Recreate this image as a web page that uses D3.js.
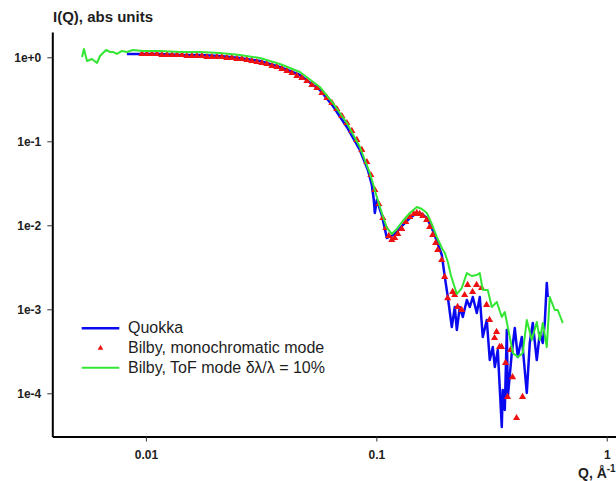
<!DOCTYPE html>
<html><head><meta charset="utf-8">
<script src="https://cdn.jsdelivr.net/npm/d3@7"></script>
<style>
body{margin:0;background:#fff}
svg{display:block}
text{font-family:"Liberation Sans",Arial,Helvetica,sans-serif}
</style>
</head><body>
<svg id="c" width="616" height="481"></svg>
<script>
// ---- data ----
const quokkaQ = [0.00827,0.00971,0.0115,0.01404,0.01715,0.02094,0.02557,0.03123,0.03814,0.04658,
  0.05686,0.06477,0.07447,0.0848,0.0919,0.0956,0.0975,0.0985,0.1005,0.1056,
  0.1111,0.1179,0.1227,0.1303,0.1398,0.1499,0.1576,0.1656,0.1741,0.1830,
  0.1924,0.1983,0.2043,0.2126,0.2191,0.2235,0.2303,0.2373,0.2470,0.2545,
  0.2622,0.2729,0.2812,0.2897,0.3016,0.3107,0.3202,0.3267,0.3366,0.3503,
  0.3538,0.3610,0.3684,0.3721,0.3872,0.3990,0.4111,0.4279,0.4498,0.4634,
  0.4775,0.4970,0.5121,0.5277,0.5383,0.5492,0.5546];
const quokkaI = [1.095,1.095,1.095,1.065,1.065,1.036,0.981,0.904,0.766,0.616,
  0.408,0.263,0.148,0.0788,0.0455,0.0302,0.0200,0.0140,0.0200,0.01326,
  0.00706,0.00766,0.00832,0.01008,0.01221,0.0140,0.01363,0.01221,0.00929,0.00650,
  0.00443,0.00242,0.00140,0.000616,0.001065,0.000567,0.001065,0.000810,0.00129,0.001065,
  0.00140,0.000904,0.00140,0.000468,0.000746,0.000249,0.000356,0.000206,0.000328,0.0000397,
  0.0001095,0.0000633,0.000567,0.0000904,0.000302,0.000599,0.000270,0.000468,0.0001008,0.000397,
  0.000687,0.000249,0.000522,0.000397,0.000687,0.00206,0.00140];

const monoQ = [0.009608,0.01010,0.01062,0.01116,0.01173,0.01233,0.01297,0.01363,0.01433,0.01506,
  0.01583,0.01664,0.01750,0.01839,0.01934,0.02033,0.02137,0.02246,0.02361,0.02482,
  0.02609,0.02743,0.02883,0.03031,0.03186,0.03349,0.03521,0.03701,0.03891,0.04090,
  0.04300,0.04520,0.04751,0.04995,0.05251,0.05520,0.05802,0.06099,0.06412,0.06740,
  0.07085,0.07448,0.07830,0.08231,0.08652,0.09096,0.09466,0.09852,0.1025,0.1067,
  0.1100,0.1133,0.1167,0.1202,0.1239,0.1289,0.1342,0.1397,0.1454,0.1498,
  0.1543,0.1590,0.1654,0.1705,0.1756,0.1809,0.1846,0.1921,0.1979,0.2039,
  0.2144,0.2187,0.2253,0.2345,0.2416,0.2489,0.2616,0.2723,0.2862,0.3009,
  0.3100,0.3259,0.3325,0.3425,0.3495,0.3637,0.3710,0.3823,0.3900,0.4059,0.4310];
const monoI = [1.095,1.095,1.095,1.095,1.065,1.065,1.065,1.065,1.065,1.036,
  1.036,1.036,1.036,1.008,1.008,1.008,1.008,0.981,0.981,0.955,
  0.955,0.929,0.904,0.879,0.855,0.832,0.788,0.767,0.726,0.687,
  0.650,0.599,0.567,0.522,0.468,0.431,0.376,0.328,0.286,0.242,
  0.200,0.165,0.133,0.104,0.0788,0.0567,0.0397,0.0263,0.0179,0.0122,
  0.00929,0.00746,0.00669,0.00706,0.00788,0.00904,0.01095,0.01256,0.01364,0.01402,
  0.01364,0.01291,0.01157,0.00955,0.00767,0.00616,0.00508,0.00386,0.00243,0.00136,
  0.00161,0.00148,0.00107,0.000982,0.00148,0.00195,0.00161,0.00195,0.00179,0.00113,
  0.000746,0.000455,0.000537,0.000356,0.000356,0.000230,0.0000904,0.000328,0.000156,0.0000508,0.0000904];

const tofQ = [0.00528,0.00538,0.00555,0.00583,0.00613,0.00632,0.00651,0.00671,0.00698,0.00719,
  0.00748,0.00787,0.00827,0.00878,
  0.00971,0.0115,0.01404,0.01715,0.02094,0.02557,0.03123,0.03814,0.04658,0.05686,
  0.06477,0.07447,0.0848,0.0937,0.1005,0.1056,0.1111,0.1168,0.1227,0.1303,
  0.1398,0.1499,0.1576,0.1656,0.1741,0.1830,0.1924,0.1983,0.2043,0.2105,
  0.2235,0.2349,0.2470,0.2596,0.2729,0.2812,0.2897,0.3046,0.3170,0.3333,
  0.3503,0.3610,0.3795,0.3911,0.4111,0.4322,0.4498,0.4728,0.4970,0.5121,
  0.5277,0.5492,0.5659,0.5949,0.6130,0.6444];
const tofI = [1.008,1.256,0.904,0.954,0.855,1.036,1.125,1.221,1.157,1.157,
  1.095,1.189,1.157,1.221,
  1.189,1.189,1.157,1.157,1.125,1.065,0.981,0.832,0.668,0.443,
  0.2858,0.1651,0.0855,0.0419,0.02172,0.0140,0.00929,0.00788,0.00904,0.01125,
  0.0140,0.01651,0.01563,0.0140,0.01036,0.00726,0.00537,0.00468,0.00366,0.00256,
  0.00152,0.00179,0.00270,0.00249,0.00256,0.00270,0.00170,0.00170,0.001065,0.00122,
  0.000810,0.000929,0.000468,0.000302,0.000270,0.000302,0.000746,0.000431,0.000706,0.000431,
  0.000687,0.000356,0.00140,0.000981,0.000981,0.000687];

const seriesNames = ["Quokka", "Bilby, monochromatic mode", "Bilby, ToF mode \u03b4\u03bb/\u03bb = 10%"];
const xTicks = [0.01, 0.1, 1];
const xTickLabels = ["0.01", "0.1", "1"];
const yTicks = [1, 0.1, 0.01, 0.001, 0.0001];
const yTickLabels = ["1e+0", "1e-1", "1e-2", "1e-3", "1e-4"];
const yTitle = "I(Q), abs units";
const xTitle = "Q, \u00c5";
const xTitleSup = "-1";

// ---- drawing ----
const BLUE = "#0a0af0", RED = "#ee1111", GREEN = "#33e633", INK = "#1e1e1e";
const svg = d3.select("#c");
const x = d3.scaleLog().domain([0.003923, 1.097]).range([52.3, 616]);
const y = d3.scaleLog().domain([3.06e-5, 2.0]).range([436.5, 32]);

const zip = (qs, is) => qs.map((q, k) => ({q: q, i: is[k]}));
const quokka = zip(quokkaQ, quokkaI), mono = zip(monoQ, monoI), tof = zip(tofQ, tofI);

const line = d3.line().x(d => x(d.q)).y(d => y(d.i));

// axes
const xAxis = d3.axisBottom(x).tickValues(xTicks)
  .tickFormat(d => xTickLabels[xTicks.indexOf(d)]).tickSize(5).tickSizeOuter(0).tickPadding(9);
const yAxis = d3.axisLeft(y).tickValues(yTicks)
  .tickFormat(d => yTickLabels[yTicks.indexOf(d)]).tickSize(5).tickSizeOuter(0).tickPadding(6);

const gx = svg.append("g").attr("transform", "translate(0,436.5)").call(xAxis);
const gy = svg.append("g").attr("transform", "translate(52.3,0)").call(yAxis);
[gx, gy].forEach(g => {
  g.select(".domain").attr("stroke", "#000").attr("stroke-width", 2);
  g.selectAll(".tick line").attr("stroke", "#333").attr("stroke-width", 1);
  g.selectAll(".tick text").attr("fill", INK).style("font-size", "12px").style("font-weight", "bold")
    .style("font-family", "'Liberation Sans',Arial,sans-serif");
});

// series
svg.append("path").datum(quokka).attr("d", line).attr("fill", "none")
  .attr("stroke", BLUE).attr("stroke-width", 2.5).attr("stroke-linejoin", "round");
svg.append("g").selectAll("path").data(mono).join("path")
  .attr("d", d3.symbol(d3.symbolTriangle, 22))
  .attr("transform", d => `translate(${x(d.q)},${y(d.i)})`)
  .attr("fill", RED);
svg.append("path").datum(tof).attr("d", line).attr("fill", "none")
  .attr("stroke", GREEN).attr("stroke-width", 2).attr("stroke-linejoin", "round");

// titles
svg.append("text").attr("x", 53).attr("y", 22).text(yTitle)
  .style("font-size", "15px").style("font-weight", "bold").attr("fill", INK);
const xt = svg.append("text").attr("x", 578).attr("y", 478)
  .style("font-size", "14px").style("font-weight", "bold").attr("fill", INK);
xt.append("tspan").text(xTitle);
xt.append("tspan").attr("dy", -6).style("font-size", "10px").text(xTitleSup);

// legend
const lg = svg.append("g");
const rows = [333, 353, 373];
lg.append("line").attr("x1", 81.7).attr("x2", 119.3).attr("y1", 328.3).attr("y2", 328.3)
  .attr("stroke", BLUE).attr("stroke-width", 2.5);
lg.append("path").attr("d", d3.symbol(d3.symbolTriangle, 14))
  .attr("transform", "translate(100.5,348)").attr("fill", RED);
lg.append("line").attr("x1", 81.7).attr("x2", 119.3).attr("y1", 367.7).attr("y2", 367.7)
  .attr("stroke", GREEN).attr("stroke-width", 2);
lg.selectAll("text").data(seriesNames).join("text")
  .attr("x", 128).attr("y", (d, k) => rows[k]).text(d => d)
  .style("font-size", "16px").attr("fill", INK);
</script>
</body></html>
